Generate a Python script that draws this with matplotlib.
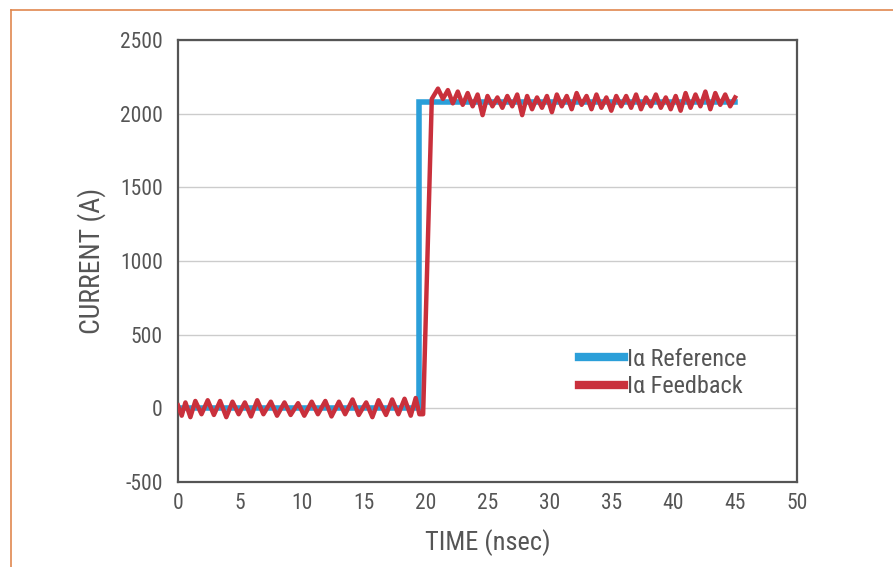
import matplotlib
matplotlib.use("Agg")
import matplotlib.pyplot as plt
from matplotlib.lines import Line2D
from matplotlib import font_manager

# Data
ref_time = [0, 19.5, 19.5, 45]
ref_current = [0, 0, 2080, 2080]

fb_time = [0, 0.3, 0.6, 1.0, 1.4, 1.9, 2.4, 2.9, 3.4, 3.9, 4.4, 4.9, 5.4, 5.9,
           6.4, 6.9, 7.5, 8.0, 8.6, 9.1, 9.7, 10.2, 10.8, 11.3, 11.9, 12.4,
           13.0, 13.5, 14.1, 14.6, 15.2, 15.7, 16.2, 16.8, 17.3, 17.8, 18.3,
           18.8, 19.2, 19.5, 19.8,
           20.5, 21.0, 21.4, 21.8, 22.2, 22.6, 23.0, 23.4, 23.8, 24.2, 24.6,
           25.0, 25.4, 25.8, 26.2, 26.6, 27.0, 27.4, 27.8, 28.2, 28.6, 29.0,
           29.4, 29.8, 30.2, 30.6, 31.0, 31.4, 31.8, 32.2, 32.6, 33.0, 33.4,
           33.8, 34.2, 34.6, 35.0, 35.4, 35.8, 36.2, 36.6, 37.0, 37.4, 37.8,
           38.2, 38.6, 39.0, 39.4, 39.8, 40.2, 40.6, 41.0, 41.4, 41.8, 42.2,
           42.6, 43.0, 43.4, 43.8, 44.2, 44.6, 45.0]
fb_current = [20, -50, 40, -60, 50, -40, 55, -45, 50, -60, 45, -40, 40, -55,
              55, -40, 45, -50, 40, -45, 35, -50, 45, -40, 50, -55, 45, -40,
              60, -45, 40, -60, 55, -45, 60, -40, 65, -50, 70, -40, -40,
              2100, 2170, 2100, 2160, 2070, 2150, 2060, 2140, 2050, 2130, 1990,
              2120, 2050, 2110, 2040, 2120, 2050, 2130, 1990, 2120, 2030, 2110,
              2040, 2120, 2010, 2130, 2050, 2120, 2030, 2140, 2060, 2120, 2030,
              2130, 2040, 2110, 2020, 2120, 2050, 2120, 2040, 2130, 2030, 2110,
              2050, 2130, 2040, 2110, 2030, 2120, 2020, 2140, 2040, 2130, 2050,
              2150, 2030, 2140, 2060, 2130, 2050, 2110]

x_ticks = [0, 5, 10, 15, 20, 25, 30, 35, 40, 45, 50]
y_ticks = [-500, 0, 500, 1000, 1500, 2000, 2500]

names = {f.name for f in font_manager.fontManager.ttflist}
font = [n for n in ['Liberation Sans Narrow', 'DejaVu Sans Condensed', 'Roboto Condensed'] if n in names] + ['DejaVu Sans']
txt_color = '#555555'

fig = plt.figure(figsize=(8.93, 5.67), dpi=100)
fig.patch.set_facecolor('white')
ax = fig.add_axes([178/893, 1-482/567, (797-178)/893, (482-40)/567])

ax.plot(ref_time, ref_current, color='#2b9fd9', lw=4.0, label='Iα Reference', solid_joinstyle='miter', zorder=3)
ax.plot(fb_time, fb_current, color='#c9303c', lw=3.2, label='Iα Feedback', zorder=4)

ax.set_xlim(0, 50)
ax.set_ylim(-500, 2500)
ax.set_xticks(x_ticks)
ax.set_yticks(y_ticks)
ax.set_xticklabels([str(v) for v in x_ticks], family=font, fontsize=15.5, color=txt_color)
ax.set_yticklabels([str(v) for v in y_ticks], family=font, fontsize=15.5, color=txt_color)
ax.tick_params(axis='y', length=0, pad=11)
ax.tick_params(axis='x', length=0, pad=8)
ax.grid(axis='y', color='#cccccc', lw=1.0)
ax.set_axisbelow(True)
for s in ax.spines.values():
    s.set_color('#555555')
    s.set_linewidth(1.6)

ax.set_xlabel('TIME (nsec)', family=font, fontsize=19, color=txt_color, labelpad=11)
ax.set_ylabel('CURRENT (A)', family=font, fontsize=20, color=txt_color, labelpad=10)

leg = ax.legend(loc='upper left', bbox_to_anchor=((557-178)/619, (482-326)/442),
                frameon=False, handlelength=1.85, handletextpad=0.15, labelspacing=0.18,
                prop={'family': font, 'size': 17.5})
for t in leg.get_texts():
    t.set_color(txt_color)
for h in leg.legend_handles:
    h.set_linewidth(6)

# Orange border
fig.add_artist(Line2D([11/893, 1], [1-10/567, 1-10/567], color='#e0884f', lw=1.2))
fig.add_artist(Line2D([11/893, 11/893], [0, 1-10/567], color='#e0884f', lw=1.2))

fig.savefig('out.png', dpi=100)
